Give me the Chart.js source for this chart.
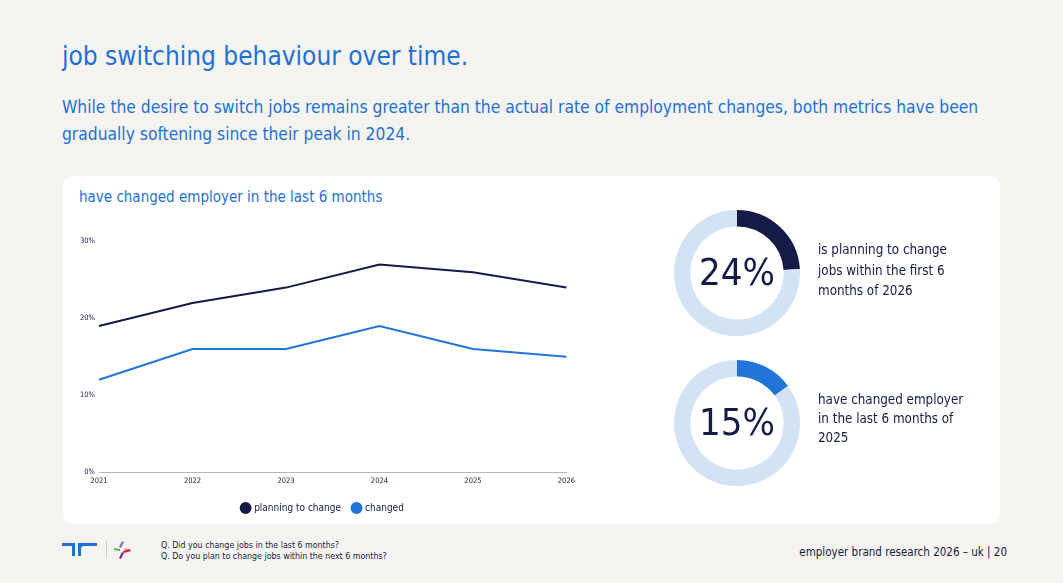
<!DOCTYPE html>
<html>
<head>
<meta charset="utf-8">
<script src="https://cdn.jsdelivr.net/npm/chart.js@4/dist/chart.umd.min.js"></script>
<style>
  body{margin:0;width:1063px;height:583px;background:#f5f4f0;position:relative;overflow:hidden;
       font-family:"DejaVu Sans Condensed","DejaVu Sans",sans-serif;}
  .abs{position:absolute;}
  #title{left:62px;top:41px;font-size:26px;color:#1f70d7;white-space:nowrap;}
  #sub{left:62px;top:94px;font-size:17.3px;line-height:27px;color:#1f70d7;width:960px;}
  #card{left:63px;top:176px;width:937px;height:348px;background:#fff;border-radius:10px;}
  #cardTitle{left:79px;top:188px;font-size:15px;color:#1f70d7;white-space:nowrap;}
  .big{font-size:38px;color:#141b47;width:126px;text-align:center;}
  .note{font-size:13.3px;line-height:20.5px;color:#141b47;white-space:nowrap;}
  #q{left:161px;top:540px;font-size:8.8px;line-height:11px;color:#141b47;white-space:nowrap;}
  #foot{right:56px;top:545px;font-size:11.5px;color:#141b47;white-space:nowrap;}
</style>
</head>
<body>
<div id="title" class="abs">job switching behaviour over time.</div>
<div id="sub" class="abs">While the desire to switch jobs remains greater than the actual rate of employment changes, both metrics have been gradually softening since their peak in 2024.</div>
<div id="card" class="abs"></div>
<div id="cardTitle" class="abs">have changed employer in the last 6 months</div>

<div class="abs" style="left:66px;top:233px;width:514px;height:292px;"><canvas id="lineChart"></canvas></div>

<div class="abs" style="left:674px;top:210px;width:126px;height:126px;"><canvas id="donutPlan"></canvas></div>
<div class="abs" style="left:674px;top:360px;width:126px;height:126px;"><canvas id="donutChanged"></canvas></div>
<div id="bigPlan" class="abs big" style="left:674px;top:250px;"></div>
<div id="bigChanged" class="abs big" style="left:674px;top:400px;"></div>
<div class="abs note" style="left:818px;top:240px;">is planning to change<br>jobs within the first 6<br>months of 2026</div>
<div class="abs note" style="left:818px;top:390px;line-height:19px;">have changed employer<br>in the last 6 months of<br>2025</div>

<svg class="abs" style="left:60px;top:538px;" width="75" height="24" viewBox="0 0 75 24">
  <path d="M2 5 H15 V18 H12 V8 H2 Z" fill="#1f70d7"/>
  <path d="M18 5 H37 V8 H24 Q21 8 21 11 V18 H18 Z" fill="#1f70d7"/>
  <line x1="46.5" y1="3" x2="46.5" y2="20" stroke="#cfcfcf" stroke-width="1"/>
  <path d="M62 3 L64 4 L61 10 L59 9 Z" fill="#8e6bc2"/>
  <path d="M54 10 L60 11 L60 13 L54 12 Z" fill="#5bb54a"/>
  <path d="M65 10 L69 12 L67 13 L64 11 Z" fill="#ef8a3a"/>
  <path d="M70 11 L71 13 L64 15 L63 13 Z" fill="#d81b6a"/>
  <path d="M62 14 L64 15 L61 21 L59 20 Z" fill="#7a2a8a"/>
</svg>
<div id="q" class="abs">Q. Did you change jobs in the last 6 months?<br>Q. Do you plan to change jobs within the next 6 months?</div>
<div id="foot" class="abs">employer brand research 2026 – uk | 20</div>

<script>
// --- data ---
const years = ["2021", "2022", "2023", "2024", "2025", "2026"];
const planningToChange = [19, 22, 24, 27, 26, 24];
const changedEmployer = [12, 16, 16, 19, 16, 15];
const yTicks = [0, 10, 20, 30];
const planShare = 24;
const changedShare = 15;

const navy = "#141b47";
const blue = "#2174d8";
const pale = "#d3e3f6";
const font = '"DejaVu Sans Condensed","DejaVu Sans",sans-serif';

Chart.defaults.font.family = font;
Chart.defaults.color = navy;

new Chart(document.getElementById("lineChart"), {
    type: "line",
    data: {
        labels: years,
        datasets: [
            {label: "planning to change", data: planningToChange, borderColor: navy, backgroundColor: navy,
             borderWidth: 2, pointRadius: 0, fill: false, tension: 0},
            {label: "changed", data: changedEmployer, borderColor: blue, backgroundColor: blue,
             borderWidth: 2, pointRadius: 0, fill: false, tension: 0}
        ]
    },
    options: {
        responsive: true, maintainAspectRatio: false, animation: false,
        layout: {padding: {top: 2, right: 0, bottom: 2, left: 0}},
        plugins: {
            tooltip: {enabled: false},
            legend: {
                position: "bottom",
                labels: {usePointStyle: true, pointStyle: "circle", boxWidth: 7, boxHeight: 7,
                         padding: 12, font: {size: 10}, color: navy}
            }
        },
        scales: {
            x: {
                grid: {display: false, drawTicks: false},
                border: {display: true, color: "#b8b8b8", width: 1},
                ticks: {font: {size: 7.5}, padding: 5, maxRotation: 0, color: navy}
            },
            y: {
                min: 0, max: 30,
                afterFit: s => { s.width = 33; },
                afterBuildTicks: s => { s.ticks = yTicks.map(v => ({value: v})); },
                grid: {display: false, drawTicks: false},
                border: {display: false},
                ticks: {font: {size: 7.5}, padding: 4, color: navy, callback: v => v + "%"}
            }
        }
    }
});

function donut(id, share, color){
    new Chart(document.getElementById(id), {
        type: "doughnut",
        data: {
            labels: ["share", "rest"],
            datasets: [{data: [share, 100 - share], backgroundColor: [color, pale], borderWidth: 0}]
        },
        options: {
            responsive: true, maintainAspectRatio: false, animation: false, cutout: "74%",
            plugins: {legend: {display: false}, tooltip: {enabled: false}}
        }
    });
}
donut("donutPlan", planShare, navy);
donut("donutChanged", changedShare, blue);
document.getElementById("bigPlan").textContent = planShare + "%";
document.getElementById("bigChanged").textContent = changedShare + "%";
</script>
</body>
</html>
